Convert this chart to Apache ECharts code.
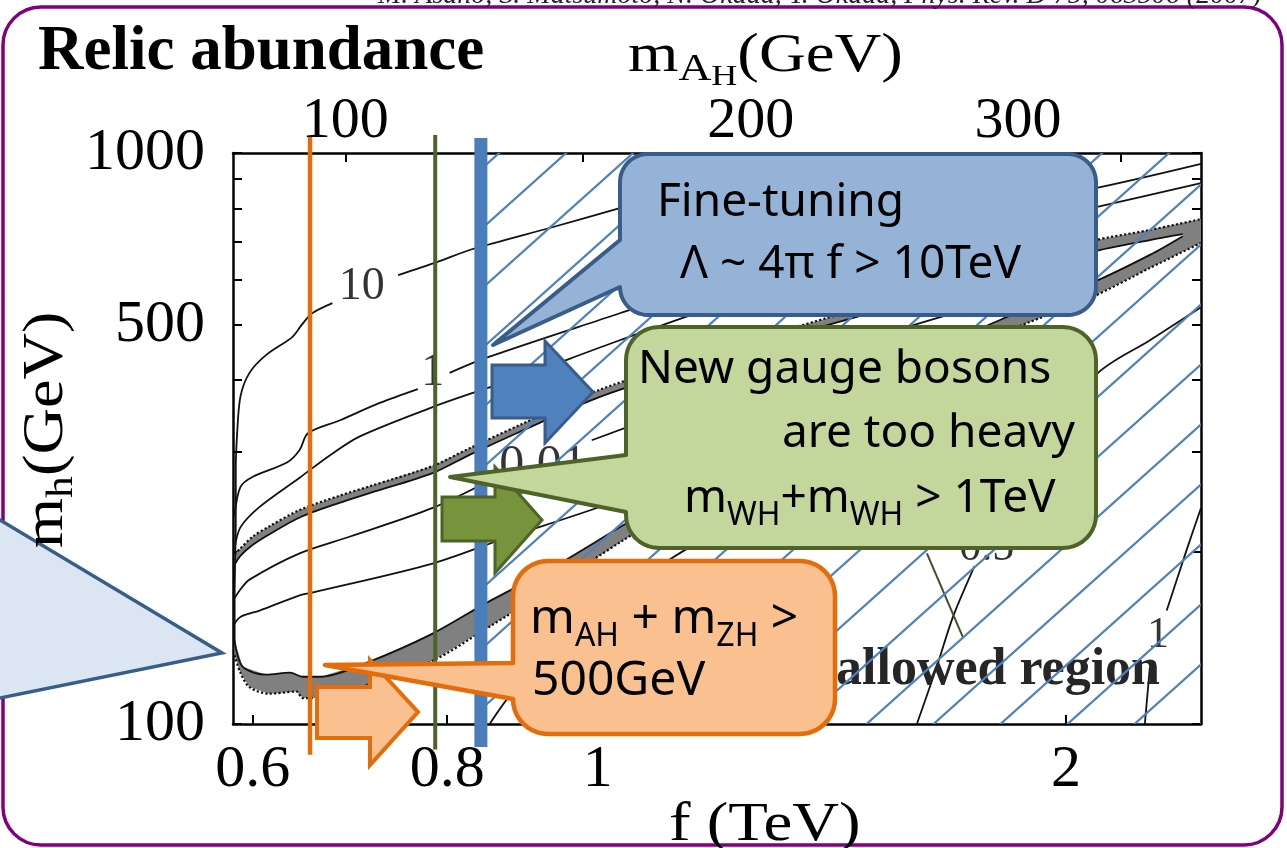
<!DOCTYPE html>
<html><head><meta charset="utf-8">
<script src="https://cdn.jsdelivr.net/npm/echarts@6/dist/echarts.min.js"></script>
<style>html,body{margin:0;padding:0;background:#fff;}#c{width:1287px;height:848px;}</style>
</head><body><div id="c"></div>
<script>
// ---------------- axes / tick data ----------------
const fRange = [0.5826, 2.443];            // f (TeV), log axis
const mhRange = [100, 1000];               // m_h (GeV), log axis
const fTickValues = [0.6, 0.8, 1, 2];
const mhTickValues = [100, 200, 300, 400, 500, 600, 700, 800, 900, 1000];
const mhLabelValues = [100, 500, 1000];
const mAHTickLabels = [100, 150, 200, 250, 300, 350];     // top axis m_AH (GeV)
const mAHTickF = [0.688, 0.978, 1.254, 1.56, 1.863, 2.169]; // f where those m_AH sit
const mAHLabelled = [100, 200, 300];

// ---------------- contour lines [f, m_h]; each contour = list of segments ----------------
const contour10 = [
  [[0.584,138],[0.584,165],[0.585,228],[0.585,279],[0.586,318],[0.589,374],[0.597,412],[0.612,443],[0.636,476],[0.645,500],[0.655,524],[0.675,546]],
  [[0.744,611],[0.788,644],[0.831,679],[0.936,742],[1.033,801],[1.163,879],[1.381,1000]]
];
const contour1 = [
  [[0.584,232],[0.589,260],[0.600,271],[0.631,287],[0.643,302],[0.651,323],[0.682,340],[0.724,365],[0.766,386]],
  [[0.803,412],[0.848,438],[1.033,524],[1.252,624],[1.564,748],[2.078,865],[2.443,957]]
];
const contourMid = [
  [[0.584,203],[0.589,221],[0.606,240],[0.643,270],[0.673,296],[0.703,319],[0.783,359],[0.831,380],[0.891,405],[1.033,470],[1.252,564],[1.564,676],[2.078,801],[2.443,886]]
];
const contour001 = [
  [[0.583,165],[0.589,172],[0.597,179],[0.643,199],[0.693,213],[0.783,239],[0.859,270]],
  [[0.991,314],[1.163,369],[1.452,461],[1.814,553]]
];
const contourLow = [
  [[0.583,149],[0.589,154],[0.606,158],[0.643,168],[0.656,170],[0.783,191],[0.865,210],[1.033,247],[1.252,308],[1.564,452]]
];
const contourBelow = [
  [[0.852,100],[0.880,113],[0.945,138],[1.064,179],[1.198,219],[1.349,257]]
];
const contour05 = [
  [[1.604,100],[1.652,126],[1.692,154],[1.747,189]],
  [[1.814,220],[1.924,290],[2.090,408],[2.265,470],[2.443,537]]
];
const contour1b = [
  [[2.248,100],[2.265,126]],
  [[2.322,158],[2.392,202],[2.443,239]]
];

// WMAP-allowed grey band (edges)
const bandUpperOuter = [[0.584,198],[0.589,203],[0.600,213],[0.615,222],[0.643,237],[0.682,251],[0.714,261],[0.783,283],[0.827,304],[0.891,334],[1.003,385],[1.163,439],[1.349,498],[1.564,559],[1.814,624],[2.078,701],[2.265,733],[2.443,766]];
const bandUpperInner = [[0.584,190],[0.589,197],[0.600,206],[0.615,215],[0.643,230],[0.682,244],[0.714,254],[0.783,275],[0.827,296],[0.891,325],[1.003,374],[1.163,427],[1.349,484],[1.564,542],[1.814,606],[2.078,671],[2.265,704],[2.378,721]];
const bandLowerInner = [[0.584,140],[0.591,126],[0.612,122],[0.634,123],[0.646,121],[0.663,121],[0.710,128],[0.783,144],[0.848,163],[0.936,188],[1.033,221],[1.163,268],[1.349,340],[1.564,425],[1.814,510],[2.078,592],[2.265,663],[2.378,715]];
const bandLowerOuter = [[0.584,132],[0.589,123],[0.597,116],[0.615,113],[0.640,114],[0.646,111],[0.663,111],[0.710,117],[0.783,129],[0.848,147],[0.936,174],[1.033,208],[1.163,253],[1.349,323],[1.564,402],[1.814,482],[2.078,559],[2.265,629],[2.443,696]];

// contour labels
const labelText = ['10', '1', '0.01', '0.5', '1'];
const labelF = [0.705, 0.783, 0.922, 1.779, 2.292];
const labelM = [582, 412, 283, 203, 143];
const labelSize = [46, 46, 50, 44, 44];

// annotation pointer from "allowed region"
const pointerLine = [[1.628,199],[1.717,142]];

// vertical constraint lines (f in TeV) and their vertical extent (GeV)
const limitF = [0.653, 0.786, 0.841];
const limitLow = [88.3, 90.2, 91.1];
const limitHigh = [1067, 1075, 1062];
const limitColor = ['#e46c0a', '#4f6228', '#4a7ebb'];
const limitWidth = [4.5, 4, 13];

// ---------------- helpers ----------------
const mctx = document.createElement('canvas').getContext('2d');
function tw(t, font) { mctx.font = font; return mctx.measureText(t).width; }
const K_SERIF = 0.305, K_SANS = 0.285;
function textRun(x, baseline, pieces, o) {
  let cx = 0; const children = [];
  pieces.forEach(p => {
    const font = (p.style || '') + ' ' + (p.weight || 'normal') + ' ' + p.size + 'px ' + o.family;
    children.push({
      type: 'text', x: cx, y: (p.dy || 0) - o.k * p.size, z: o.z, z2: 5, silent: true,
      style: { text: p.t, font: font, fill: o.fill || '#000', textAlign: 'left', textVerticalAlign: 'middle', align: 'left', verticalAlign: 'middle' }
    });
    cx += tw(p.t, font);
  });
  return { type: 'group', x: x, y: baseline, scaleX: o.scaleX || 1, rotation: o.rotation || 0, z: o.z, silent: true, children: children };
}
const SERIF = '"Liberation Serif"', SANS = '"Noto Sans"';

function arc(cx, cy, r, a0, a1) {
  const pts = [];
  for (let i = 0; i <= 10; i++) { const a = (a0 + (a1 - a0) * i / 10) * Math.PI / 180; pts.push([cx + r * Math.cos(a), cy + r * Math.sin(a)]); }
  return pts;
}
// rounded box with a tail on its left edge (tail points listed bottom -> tip -> top)
function bubble(x0, y0, x1, y1, r, tail) {
  return [].concat(
    arc(x0 + r, y0 + r, r, 180, 270),
    arc(x1 - r, y0 + r, r, 270, 360),
    arc(x1 - r, y1 - r, r, 0, 90),
    arc(x0 + r, y1 - r, r, 90, 180),
    tail
  );
}

function hatch() {
  const W = 67, H = 60; const cv = document.createElement('canvas'); cv.width = W; cv.height = H;
  const ctx = cv.getContext('2d'); ctx.strokeStyle = '#4f81bd'; ctx.lineWidth = 2.2;
  for (let k = -1; k <= 1; k++) { ctx.beginPath(); ctx.moveTo(-W, 2 * H + k * H); ctx.lineTo(2 * W, -H + k * H); ctx.stroke(); }
  return { image: cv, repeat: 'repeat' };
}

// ---------------- series ----------------
const series = [];
function addContour(segs, style, z) {
  segs.forEach(seg => series.push({
    type: 'line', data: seg, symbol: 'none', showSymbol: false, smooth: 0.3, silent: true, clip: true,
    lineStyle: Object.assign({ color: '#111', width: 1.8 }, style || {}), z: z || 2
  }));
}
const bandPolygon = bandUpperOuter.concat(bandLowerOuter.slice().reverse(), bandLowerInner, bandUpperInner.slice().reverse());
series.push({
  type: 'custom', coordinateSystem: 'cartesian2d', clip: true, silent: true, z: 2,
  data: [[1, 200]],
  renderItem: function (params, api) {
    return { type: 'polygon', shape: { points: bandPolygon.map(p => api.coord(p)) }, style: { fill: '#808080' } };
  }
});
addContour([bandUpperOuter], { type: 'dotted', width: 2.2 });
addContour([bandUpperInner, bandLowerInner]);
addContour([bandLowerOuter], { type: 'dotted', width: 2.2 });
[contour10, contour1, contourMid, contour001, contourLow, contourBelow, contour05, contour1b].forEach(c => addContour(c));
series.push({ type: 'line', data: pointerLine, symbol: 'none', silent: true, clip: false, lineStyle: { color: '#4a4a28', width: 2 }, z: 3 });

series.push({
  type: 'scatter', symbolSize: 1, silent: true, z: 3, itemStyle: { color: 'rgba(0,0,0,0)' },
  data: labelF.map((f, i) => ({
    value: [f, labelM[i]],
    label: { show: true, position: 'inside', formatter: labelText[i], fontSize: labelSize[i], fontFamily: 'Liberation Serif', color: '#000' }
  }))
});

limitF.forEach((f, i) => {
  const s = {
    type: 'line', data: [[f, limitLow[i]], [f, limitHigh[i]]], symbol: 'none', silent: true, clip: false, z: 5,
    lineStyle: { color: limitColor[i], width: limitWidth[i] }
  };
  if (i === 2) {
    s.markArea = {
      silent: true, z: 4, label: { show: false },
      itemStyle: { color: hatch(), opacity: 1, borderWidth: 0 },
      data: [[{ coord: [f, mhRange[0]] }, { coord: [fRange[1], mhRange[1]] }]]
    };
  }
  series.push(s);
});

// ---------------- axes ----------------
const axisLineStyle = { color: '#000', width: 2.5 };
const tickStyle = { color: '#000', width: 2 };
function topLabel(v) {
  let best = 0, bd = 1e9;
  mAHTickF.forEach((f, i) => { const d = Math.abs(Math.log(f) - Math.log(v)); if (d < bd) { bd = d; best = i; } });
  return String(mAHTickLabels[best]);
}
const option = {
  animation: false,
  backgroundColor: '#fff',
  grid: { left: 233, right: 86, top: 153, bottom: 124, containLabel: false, outerBoundsMode: 'none' },
  xAxis: [
    { type: 'log', logBase: 10, min: fRange[0], max: fRange[1], position: 'bottom',
      axisLine: { show: true, lineStyle: axisLineStyle },
      axisTick: { show: true, inside: true, length: 9, lineStyle: tickStyle, customValues: fTickValues },
      axisLabel: { show: true, customValues: fTickValues, formatter: v => String(Math.round(v * 10) / 10), color: '#000', fontFamily: 'Liberation Serif', fontSize: 60, margin: 16 },
      splitLine: { show: false }, minorTick: { show: false } },
    { type: 'log', logBase: 10, min: fRange[0], max: fRange[1], position: 'top',
      axisLine: { show: true, lineStyle: axisLineStyle },
      axisTick: { show: true, inside: true, length: 9, lineStyle: tickStyle, customValues: mAHTickF },
      axisLabel: { show: true, customValues: mAHLabelled.map(m => mAHTickF[mAHTickLabels.indexOf(m)]), formatter: topLabel, color: '#000', fontFamily: 'Liberation Serif', fontSize: 58, margin: 2 },
      splitLine: { show: false }, minorTick: { show: false } }
  ],
  yAxis: [
    { type: 'log', logBase: 10, min: mhRange[0], max: mhRange[1], position: 'left',
      axisLine: { show: true, lineStyle: axisLineStyle },
      axisTick: { show: true, inside: true, length: 9, lineStyle: tickStyle, customValues: mhTickValues },
      axisLabel: { show: true, customValues: mhLabelValues, formatter: v => String(Math.round(v)), color: '#000', fontFamily: 'Liberation Serif', fontSize: 60, margin: 28 },
      splitLine: { show: false }, minorTick: { show: false } },
    { type: 'log', logBase: 10, min: mhRange[0], max: mhRange[1], position: 'right',
      axisLine: { show: true, lineStyle: axisLineStyle },
      axisTick: { show: true, inside: true, length: 9, lineStyle: tickStyle, customValues: mhTickValues },
      axisLabel: { show: false },
      splitLine: { show: false }, minorTick: { show: false } }
  ],
  series: series,
  graphic: { elements: [] }
};

// ---------------- decorations ----------------
const G = option.graphic.elements;
G.push({ type: 'rect', shape: { x: 3, y: 7, width: 1279, height: 838, r: 38 }, style: { fill: 'none', stroke: '#800080', lineWidth: 3.5 }, z: 0, silent: true });
G.push(textRun(378, 4, [{ t: 'M. Asano, S. Matsumoto, N. Okada, Y. Okada, Phys. Rev. D 75, 063506 (2007)', size: 28, style: 'italic' }], { family: SERIF, k: K_SERIF, z: 30, fill: '#222' }));
G.push(textRun(38, 72, [{ t: 'Relic abundance', size: 63, weight: 'bold' }], { family: SERIF, k: K_SERIF, z: 30 }));
G.push(textRun(628, 73, [{ t: 'm', size: 54 }, { t: 'A', size: 38, dy: 9 }, { t: 'H', size: 30, dy: 13 }, { t: '(GeV)', size: 54 }], { family: SERIF, k: K_SERIF, z: 30, scaleX: 1.2 }));
G.push(textRun(64, 548, [{ t: 'm', size: 56 }, { t: 'h', size: 38, dy: 10 }, { t: '(GeV)', size: 56 }], { family: SERIF, k: K_SERIF, z: 30, scaleX: 1.15, rotation: Math.PI / 2 }));
G.push(textRun(669, 842, [{ t: 'f (TeV)', size: 54 }], { family: SERIF, k: K_SERIF, z: 30, scaleX: 1.2 }));
G.push(textRun(836, 686, [{ t: 'allowed region', size: 52, weight: 'bold' }], { family: SERIF, k: K_SERIF, z: 3, fill: '#262626' }));

// block arrows
G.push({ type: 'polygon', shape: { points: [[492,365],[545,365],[545,341],[593,392],[545,443],[545,418],[492,418]] }, style: { fill: '#4f81bd', stroke: '#385d8a', lineWidth: 3 }, z: 10, silent: true });
G.push({ type: 'polygon', shape: { points: [[442,497],[495,497],[495,467],[542,520],[495,573],[495,541],[442,541]] }, style: { fill: '#77933c', stroke: '#4f6228', lineWidth: 3 }, z: 10, silent: true });
G.push({ type: 'polygon', shape: { points: [[317,687],[370,687],[370,660],[418,712],[370,765],[370,738],[317,738]] }, style: { fill: '#fac090', stroke: '#e46c0a', lineWidth: 4 }, z: 10, silent: true });

// callout bubbles
G.push({ type: 'polygon', shape: { points: bubble(620, 154, 1096, 315, 28, [[620,287],[493,345],[620,240]]) }, style: { fill: '#95b3d7', stroke: '#385d8a', lineWidth: 4, lineJoin: 'round' }, z: 20, silent: true });
G.push({ type: 'polygon', shape: { points: bubble(626, 327, 1096, 548, 33, [[626,512],[450,477],[626,455]]) }, style: { fill: '#c3d69b', stroke: '#4f6228', lineWidth: 4, lineJoin: 'round' }, z: 20, silent: true });
G.push({ type: 'polygon', shape: { points: bubble(513, 561, 835, 734, 35, [[513,699],[325,665],[513,663]]) }, style: { fill: '#fac090', stroke: '#e46c0a', lineWidth: 4.5, lineJoin: 'round' }, z: 20, silent: true });
G.push({ type: 'polygon', shape: { points: [[-10,514],[222,653],[-10,700]] }, style: { fill: '#dce6f2', stroke: '#385d8a', lineWidth: 3.5 }, z: 20, silent: true });

// bubble texts
G.push(textRun(657, 216, [{ t: 'Fine-tuning', size: 46 }], { family: SANS, k: K_SANS, z: 25 }));
G.push(textRun(680, 278, [{ t: 'Λ ~ 4π f > 10TeV', size: 46 }], { family: SANS, k: K_SANS, z: 25 }));
G.push(textRun(638, 383, [{ t: 'New gauge bosons', size: 46 }], { family: SANS, k: K_SANS, z: 25 }));
G.push(textRun(782, 447, [{ t: 'are too heavy', size: 46 }], { family: SANS, k: K_SANS, z: 25 }));
G.push(textRun(684, 512, [{ t: 'm', size: 46 }, { t: 'WH', size: 32, dy: 13 }, { t: '+m', size: 46 }, { t: 'WH', size: 32, dy: 13 }, { t: ' > 1TeV', size: 46 }], { family: SANS, k: K_SANS, z: 25 }));
G.push(textRun(530, 633, [{ t: 'm', size: 48 }, { t: 'AH', size: 32, dy: 13 }, { t: ' + m', size: 48 }, { t: 'ZH', size: 32, dy: 13 }, { t: ' >', size: 48 }], { family: SANS, k: K_SANS, z: 25 }));
G.push(textRun(532, 695, [{ t: '500GeV', size: 48 }], { family: SANS, k: K_SANS, z: 25 }));

const chart = echarts.init(document.getElementById('c'), null, { renderer: 'canvas', width: 1287, height: 848 });
chart.setOption(option);
</script>
</body></html>
